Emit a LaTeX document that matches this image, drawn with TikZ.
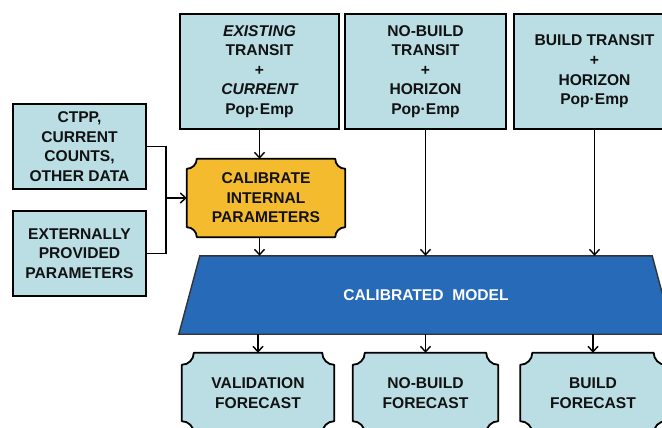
\documentclass[tikz,border=0pt]{standalone}
\usepackage{fontspec}
\setmainfont{Liberation Sans}
\usetikzlibrary{arrows.meta,backgrounds}
\definecolor{lb}{RGB}{186,222,228}
\definecolor{org}{RGB}{245,187,46}
\definecolor{mb}{RGB}{38,106,184}
\definecolor{txt}{RGB}{18,18,18}
\newcommand{\scoopshape}[3]{%
  \filldraw[fill=#2, draw=black, line width=1.8pt, line join=round]
    ([xshift=#3]#1.north west) -- ([xshift=-#3]#1.north east)
    arc[start angle=180, end angle=270, radius=#3]
    -- ([yshift=#3]#1.south east)
    arc[start angle=90, end angle=180, radius=#3]
    -- ([xshift=#3]#1.south west)
    arc[start angle=0, end angle=90, radius=#3]
    -- ([yshift=-#3]#1.north west)
    arc[start angle=270, end angle=360, radius=#3] -- cycle;}
\begin{document}
\begin{tikzpicture}[x=1pt,y=-1pt,
  font=\fontsize{15.6}{19.6}\selectfont\bfseries,
  inbox/.style={draw=black, line width=2.6pt, fill=lb, align=center,
    inner sep=0pt, text=txt},
  scoopbox/.style={align=center, inner sep=0pt, text=txt},
  arr/.style={line width=1.4pt, -{Straight Barb[length=5.5pt,width=10pt,line width=1.4pt]}},
  conn/.style={line width=1.4pt}]
\useasboundingbox (0,0) rectangle (662,428);
\clip (0,0) rectangle (662,428);
% top inputs
\node[inbox, minimum width=159, minimum height=115] (box1) at (259.5,71.5)
  {\itshape EXISTING\\TRANSIT\\+\\\itshape CURRENT\\Pop·Emp};
\node[inbox, minimum width=161, minimum height=115] (box2) at (425.5,71.5)
  {NO-BUILD\\TRANSIT\\+\\HORIZON\\Pop·Emp};
\node[inbox, minimum width=161, minimum height=115] (box3) at (594.5,71.5)
  {BUILD TRANSIT\\+\\HORIZON\\Pop·Emp};
% left inputs
\node[inbox, minimum width=133, minimum height=85] (ctpp) at (79.5,146.5)
  {CTPP,\\CURRENT\\COUNTS,\\OTHER DATA};
\node[inbox, minimum width=133, minimum height=85] (ext) at (79.5,253.5)
  {EXTERNALLY\\PROVIDED\\PARAMETERS};
% calibrate
\node[scoopbox, minimum width=158, minimum height=78] (cal) at (266,198)
  {CALIBRATE\\INTERNAL\\PARAMETERS};
% model
\node[text=white, inner sep=0pt, minimum width=452, minimum height=78] (model) at (426,295)
  {CALIBRATED\ \ MODEL};
% forecasts
\node[scoopbox, minimum width=152, minimum height=80] (val) at (258,393)
  {VALIDATION\\FORECAST};
\node[scoopbox, minimum width=145, minimum height=80] (nb) at (425.5,393)
  {NO-BUILD\\FORECAST};
\node[scoopbox, minimum width=145, minimum height=80] (bld) at (593,393)
  {BUILD\\FORECAST};
\begin{scope}[on background layer]
  \clip (0,0) rectangle (662,428);
  \scoopshape{cal}{org}{10pt}
  \scoopshape{val}{lb}{12pt}
  \scoopshape{nb}{lb}{12pt}
  \scoopshape{bld}{lb}{12pt}
  \filldraw[fill=mb, draw=black!80, line width=1.4pt]
    (model.north west) -- (model.north east)
    -- ([xshift=21pt]model.south east) -- ([xshift=-21pt]model.south west) -- cycle;
\end{scope}
% connectors
\coordinate (j) at (166,198);
\draw[conn] (ctpp.east) -| (j) |- (ext.east);
\draw[arr] (j) -- (cal.west);
\draw[arr] (box1.south) -- (box1.south |- cal.north);
\draw[arr] (box1.south |- cal.south) -- (box1.south |- model.north);
\draw[arr] (box2.south) -- (box2.south |- model.north);
\draw[arr] (box3.south) -- (box3.south |- model.north);
\draw[arr] (val.north |- model.south) -- (val.north);
\draw[arr] (nb.north |- model.south) -- (nb.north);
\draw[arr] (bld.north |- model.south) -- (bld.north);
\end{tikzpicture}
\end{document}
